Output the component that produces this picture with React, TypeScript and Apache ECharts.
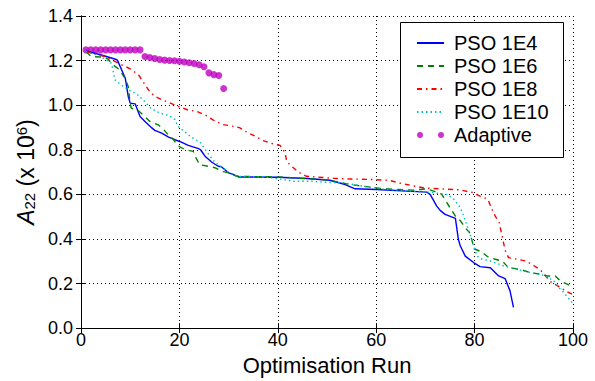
import React, { useEffect, useRef } from "react";
import * as echarts from "echarts";

// Tick labels / axis ranges
const xTicks = [0, 20, 40, 60, 80, 100];
const yTicks = [0, 0.2, 0.4, 0.6, 0.8, 1.0, 1.2, 1.4];

const seriesNames = ["PSO 1E4", "PSO 1E6", "PSO 1E8", "PSO 1E10", "Adaptive"];

// [optimisation run, A22 (x 1e6)]
const pso1e4: [number, number][] = [
  [1, 1.243], [4, 1.226], [7, 1.206], [7.4, 1.202], [9, 1.121], [9.6, 1.039], [10, 1.009],
  [11, 1.006], [12, 0.949], [13, 0.927], [14.4, 0.898], [15, 0.887], [16.4, 0.875],
  [17.8, 0.857], [19.1, 0.845], [20.5, 0.833], [21.8, 0.82], [23.9, 0.805], [24.3, 0.8],
  [25.2, 0.771], [26.6, 0.744], [27.9, 0.726], [28.6, 0.723], [30, 0.696], [31, 0.689],
  [32, 0.678], [40, 0.677], [46, 0.671], [50.6, 0.663], [53.7, 0.644], [55.7, 0.625],
  [60, 0.622], [70.3, 0.61], [71, 0.599], [72.3, 0.547], [73, 0.528], [74, 0.51],
  [76.1, 0.492], [76.7, 0.398], [77.1, 0.368], [78.1, 0.323], [79.8, 0.294], [81.1, 0.276],
  [83.2, 0.271], [84.9, 0.234], [86.2, 0.222], [87.2, 0.167], [87.9, 0.093],
];

const pso1e6: [number, number][] = [
  [1, 1.24], [2.1, 1.218], [4.8, 1.215], [5.5, 1.206], [6.5, 1.181], [7.9, 1.158],
  [8.9, 1.121], [9.6, 1.084], [9.9, 1.025], [10.2, 0.987], [11.6, 0.976], [13, 0.949],
  [14, 0.927], [15.7, 0.912], [16.7, 0.893], [17.7, 0.868], [18.7, 0.848], [19.7, 0.818],
  [21.1, 0.801], [22.8, 0.793], [23.4, 0.763], [24.1, 0.733], [25.8, 0.726], [27.3, 0.719],
  [28.6, 0.703], [30.3, 0.696], [31.7, 0.681], [40, 0.678], [46.2, 0.67], [50, 0.664],
  [52.7, 0.654], [54, 0.647], [57.4, 0.636], [60.8, 0.627], [64.2, 0.622], [67.5, 0.619],
  [69, 0.622], [70.3, 0.625], [72, 0.612], [73.3, 0.601], [74.4, 0.562], [75, 0.54],
  [76.1, 0.502], [77.1, 0.482], [78.1, 0.45], [79.1, 0.425], [79.5, 0.39], [79.9, 0.356],
  [81.5, 0.341], [82.6, 0.321], [84.2, 0.309], [85.6, 0.301], [86.9, 0.271], [88.3, 0.267],
  [90.3, 0.256], [91.3, 0.249], [93.4, 0.242], [94.7, 0.234], [96.4, 0.234], [97.4, 0.212],
  [98.8, 0.197], [100, 0.185],
];

const pso1e8: [number, number][] = [
  [1, 1.24], [4.9, 1.218], [8.3, 1.181], [10, 1.163], [11.7, 1.136], [13.7, 1.069],
  [15, 1.039], [16.5, 1.024], [19.8, 0.994], [21.8, 0.978], [23.5, 0.972], [25.2, 0.957],
  [26.9, 0.933], [28.6, 0.914], [30.3, 0.908], [32.2, 0.899], [33.7, 0.879], [35.4, 0.861],
  [36.9, 0.842], [38.6, 0.829], [40.5, 0.819], [41.5, 0.786], [41.8, 0.748], [42.8, 0.726],
  [44.3, 0.698], [45.8, 0.681], [47.6, 0.678], [51.3, 0.672], [54.7, 0.669], [58.5, 0.667],
  [62.6, 0.663], [64.5, 0.652], [66.2, 0.644], [69.8, 0.628], [73, 0.625], [77, 0.62],
  [79.6, 0.608], [81.1, 0.592], [82.7, 0.578], [83.5, 0.534], [84.2, 0.502], [85, 0.473],
  [85.7, 0.402], [86.2, 0.35], [86.9, 0.316], [88.6, 0.309], [90.4, 0.301], [92, 0.281],
  [93.4, 0.26], [95.5, 0.207], [96.9, 0.189], [98.8, 0.163], [100, 0.15],
];

const pso1e10: [number, number][] = [
  [1, 1.24], [3.9, 1.22], [6.2, 1.188], [6.9, 1.114], [8.1, 1.091], [10.1, 1.063],
  [11.3, 1.051], [12.8, 1.02], [14.2, 0.986], [16, 0.965], [18, 0.952], [19.1, 0.935],
  [19.7, 0.905], [20.8, 0.886], [22.4, 0.857], [24.3, 0.832], [25.4, 0.795], [27.3, 0.741],
  [28.7, 0.722], [30.2, 0.696], [31.5, 0.681], [38, 0.676], [43.2, 0.659], [46.6, 0.659],
  [50.3, 0.653], [53.3, 0.652], [55.4, 0.644], [57.4, 0.636], [60.8, 0.625], [64.2, 0.619],
  [67.6, 0.614], [70.3, 0.61], [73, 0.604], [74.5, 0.598], [75.8, 0.578], [77.1, 0.54],
  [77.8, 0.502], [78.4, 0.465], [79.1, 0.42], [79.8, 0.368], [80.5, 0.323], [81.5, 0.309],
  [83.2, 0.301], [85.9, 0.279], [88.6, 0.264], [91.3, 0.249], [94, 0.237], [96.1, 0.212],
  [97.1, 0.182], [98.1, 0.16], [99.5, 0.122], [100, 0.112],
];

const adaptiveRuns = [
  1, 2, 3, 4, 5, 6, 7, 8, 9, 10, 11, 12, 13, 14, 15, 16, 17, 18, 19, 20, 21, 22, 23, 24, 25,
  26, 27, 28, 29,
];
const adaptiveVals = [
  1.248, 1.248, 1.248, 1.248, 1.248, 1.248, 1.248, 1.248, 1.248, 1.248, 1.248, 1.248,
  1.218, 1.214, 1.209, 1.205, 1.202, 1.2, 1.199, 1.197, 1.194, 1.19, 1.187, 1.181, 1.172,
  1.145, 1.137, 1.133, 1.075,
];

const FONT = "'Liberation Sans', Arial, sans-serif";
const TWO_DOTS =
  "path://M0 0L0 0M27 14L27 14M0 7A3 3 0 1 0 6 7A3 3 0 1 0 0 7ZM21 7A3 3 0 1 0 27 7A3 3 0 1 0 21 7Z";

export default function App() {
  const ref = useRef<HTMLDivElement>(null);
  useEffect(() => {
    document.body.style.margin = "0";
    const chart = echarts.init(ref.current!, null, { renderer: "svg" });
    const axisLine = { show: true, lineStyle: { color: "#000", width: 1 } };
    const tick = { show: true, inside: true, length: 5, lineStyle: { color: "#000" } };
    const grid = { show: true, lineStyle: { color: "#000", width: 1, type: [1, 3] } };
    const lineCommon = { type: "line", showSymbol: false, symbol: "none", animation: false };
    const hiddenSym = { itemStyle: { opacity: 0 } };
    chart.setOption({
      animation: false,
      backgroundColor: "#fff",
      grid: { left: 81, top: 16, right: 22, bottom: 52, containLabel: false },
      xAxis: [
        {
          type: "value", min: xTicks[0], max: xTicks[xTicks.length - 1], interval: 20,
          position: "bottom", axisLine, axisTick: tick, splitLine: grid,
          axisLabel: { color: "#000", fontFamily: FONT, fontSize: 18, margin: 3 },
          name: "Optimisation Run", nameLocation: "middle", nameGap: 20,
          nameTextStyle: { color: "#000", fontFamily: FONT, fontSize: 22 },
        },
        {
          type: "value", min: xTicks[0], max: xTicks[xTicks.length - 1], interval: 20,
          position: "top", axisLine, axisTick: tick, splitLine: { show: false },
          axisLabel: { show: false },
        },
      ],
      yAxis: [
        {
          type: "value", min: yTicks[0], max: yTicks[yTicks.length - 1], interval: 0.2,
          position: "left", axisLine, axisTick: tick, splitLine: grid,
          axisLabel: {
            color: "#000", fontFamily: FONT, fontSize: 18, margin: 8,
            formatter: (v: number) => v.toFixed(1),
          },
          name: "{a|A}{s|22}{n| (x 10}{p|6}{n|)}", nameLocation: "middle", nameRotate: 90,
          nameGap: 27,
          nameTextStyle: {
            color: "#000", fontFamily: FONT,
            rich: {
              a: { fontStyle: "italic", fontSize: 23, fontFamily: FONT, color: "#000" },
              n: { fontSize: 23, fontFamily: FONT, color: "#000" },
              s: { fontSize: 15, fontFamily: FONT, color: "#000", verticalAlign: "bottom", lineHeight: 16 },
              p: { fontSize: 15, fontFamily: FONT, color: "#000", verticalAlign: "top", lineHeight: 16 },
            },
          },
        },
        {
          type: "value", min: yTicks[0], max: yTicks[yTicks.length - 1], interval: 0.2,
          position: "right", axisLine, axisTick: tick, splitLine: { show: false },
          axisLabel: { show: false },
        },
      ],
      legend: {
        orient: "vertical", left: 416, top: 33, itemWidth: 27, itemHeight: 14, itemGap: 3,
        padding: 0,
        textStyle: { color: "#000", fontFamily: FONT, fontSize: 20, padding: [0, 0, 0, 5] },
        data: [
          { name: seriesNames[0], ...hiddenSym }, { name: seriesNames[1], ...hiddenSym },
          { name: seriesNames[2], ...hiddenSym }, { name: seriesNames[3], ...hiddenSym },
          { name: seriesNames[4], icon: TWO_DOTS },
        ],
      },
      graphic: [
        {
          type: "rect", left: 400, top: 22, z: 3,
          shape: { width: 163, height: 135 },
          style: { fill: "#fff", stroke: "#000", lineWidth: 1 },
        },
      ],
      series: [
        { ...lineCommon, name: seriesNames[0], data: pso1e4, color: "#0000ff",
          lineStyle: { color: "#0000ff", width: 1.4, type: "solid" } },
        { ...lineCommon, name: seriesNames[1], data: pso1e6, color: "#008000",
          lineStyle: { color: "#008000", width: 1.4, type: [6, 5] } },
        { ...lineCommon, name: seriesNames[2], data: pso1e8, color: "#ff0000",
          lineStyle: { color: "#ff0000", width: 1.4, type: [5, 4, 1.5, 4] } },
        { ...lineCommon, name: seriesNames[3], data: pso1e10, color: "#00bfbf",
          lineStyle: { color: "#00bfbf", width: 1.4, type: [1.5, 3] } },
        {
          type: "scatter", name: seriesNames[4], symbol: "circle", symbolSize: 7,
          color: "#bf00bf", itemStyle: { color: "#bf00bf" },
          data: adaptiveRuns.map((r, i) => [r, adaptiveVals[i]]),
        },
      ],
    });
    return () => chart.dispose();
  }, []);
  return (
    <div
      ref={ref}
      style={{ width: 595, height: 381, position: "absolute", left: 0, top: 0 }}
    />
  );
}
